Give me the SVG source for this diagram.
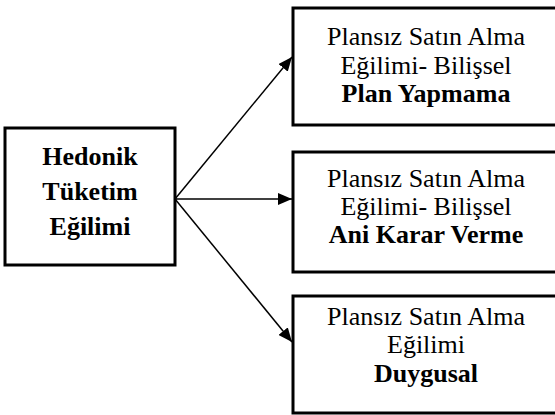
<svg xmlns="http://www.w3.org/2000/svg" width="555" height="415" viewBox="0 0 555 415">
<style>
.box{fill:#fff;stroke:#000;stroke-width:3}
.t{font-family:"Liberation Serif","Times New Roman",serif;font-size:26px;text-anchor:middle;fill:#000}
.b{font-weight:bold}
.c{stroke:#000;stroke-width:1.5;fill:none}
</style>
<defs>
<marker id="ah" viewBox="0 0 14 12" refX="14" refY="6" markerWidth="14" markerHeight="12" markerUnits="userSpaceOnUse" orient="auto">
<path d="M0,0 L14,6 L0,12 Z" fill="#000"/>
</marker>
</defs>
<g id="connectors">
<line class="c" x1="175" y1="199" x2="292" y2="57" marker-end="url(#ah)"/>
<line class="c" x1="175" y1="199" x2="292" y2="199" marker-end="url(#ah)"/>
<line class="c" x1="175" y1="199" x2="292" y2="342" marker-end="url(#ah)"/>
</g>
<g id="hedonik">
<rect class="box" x="5" y="128" width="170" height="137"/>
<text class="t b" x="90" y="165">Hedonik</text>
<text class="t b" x="90" y="200">Tüketim</text>
<text class="t b" x="90" y="235">Eğilimi</text>
</g>
<g id="plan">
<rect class="box" x="293" y="8" width="270" height="117"/>
<text class="t" x="426" y="45">Plansız Satın Alma</text>
<text class="t" x="426" y="74">Eğilimi- Bilişsel</text>
<text class="t b" x="426" y="102">Plan Yapmama</text>
</g>
<g id="ani">
<rect class="box" x="293" y="152" width="270" height="120"/>
<text class="t" x="426" y="187">Plansız Satın Alma</text>
<text class="t" x="426" y="215">Eğilimi- Bilişsel</text>
<text class="t b" x="426" y="243">Ani Karar Verme</text>
</g>
<g id="duygusal">
<rect class="box" x="293" y="296" width="270" height="117"/>
<text class="t" x="426" y="325">Plansız Satın Alma</text>
<text class="t" x="426" y="353">Eğilimi</text>
<text class="t b" x="426" y="382">Duygusal</text>
</g>
</svg>
